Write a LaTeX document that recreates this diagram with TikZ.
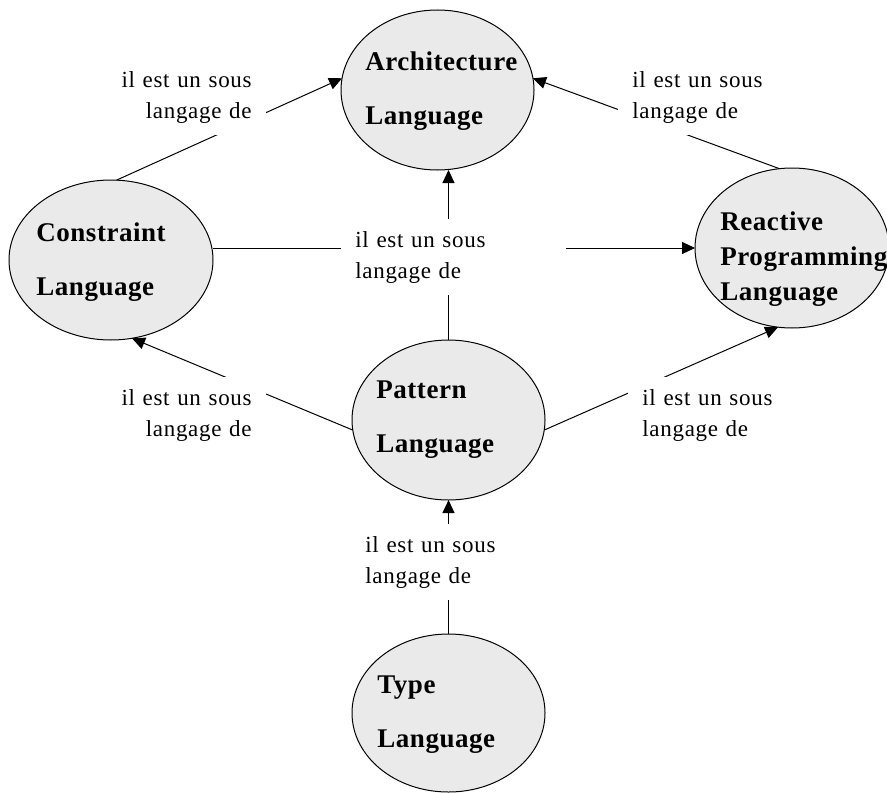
\documentclass[tikz,border=0pt]{standalone}
\usepackage{fontspec}
\setmainfont{Liberation Serif}
\newfontfamily\langfont[LetterSpace=2]{Liberation Serif}
\newfontfamily\relfont[LetterSpace=3]{Liberation Serif}
\usetikzlibrary{shapes.geometric, arrows.meta}
\definecolor{langgray}{RGB}{234,234,234}

\begin{document}
\begin{tikzpicture}[x=0.5pt, y=-0.5pt,
  lang/.style={ellipse, draw, fill=langgray, line width=0.5pt, inner sep=0pt, outer sep=0pt, minimum width=96.5pt, minimum height=80pt},
  langname/.style={anchor=north west, inner sep=0pt, align=left, font=\langfont\bfseries\fontsize{13.5}{27}\selectfont},
  rel/.style={fill=white, inner xsep=7pt, inner ysep=6pt, text width=98.5pt, align=left, font=\relfont\fontsize{11.5}{15.5}\selectfont},
  sub/.style={line width=0.5pt, -{Triangle[length=6.5pt, width=6pt]}}]
\useasboundingbox (0,0) rectangle (887,792);
%Languages
\node[lang] (arch) at (437.5,90) {};
\node[lang, minimum width=102pt] (cons) at (111,260) {};
\node[lang, minimum width=97pt] (reac) at (792,248) {};
\node[lang] (pat) at (448.5,420) {};
\node[lang, minimum height=79pt] (typ) at (448.5,713) {};
%Relations
\draw[sub] (cons.86) -- (arch.173);
\draw[sub] (reac.99) -- (arch.7);
\draw[sub] (pat.north) -- (pat.north |- arch.south);
\draw[sub] (cons.east |- reac.west) -- (reac.west);
\draw[sub] (pat.186) -- (cons.285);
\draw[sub] (pat.354) -- (reac.260);
\draw[sub] (typ.north) -- (pat.south);
%Text
\node[rel, anchor=north east, align=right] (consarch) at (266,59) {il est un sous\\langage de};
\node[rel, anchor=north west] (reacarch) at (618,59) {il est un sous\\langage de};
\node[rel, anchor=north west] (patarch) at (341,219) {il est un sous\\langage de};
\node[rel, anchor=north east, align=right] (patcons) at (266,377) {il est un sous\\langage de};
\node[rel, anchor=north west] (patreac) at (628,377) {il est un sous\\langage de};
\node[rel, anchor=north west] (typpat) at (351,524) {il est un sous\\langage de};
\node[langname] (archname) at (365,51.5) {Architecture\\Language};
\node[langname] (consname) at (36,222.5) {Constraint\\Language};
\node[langname, font=\langfont\bfseries\fontsize{13.5}{17.5}\selectfont] (reacname) at (720,211) {Reactive\\Programming\\Language};
\node[langname] (patname) at (376,380) {Pattern\\Language};
\node[langname] (typname) at (377,675) {Type\\Language};
\end{tikzpicture}
\end{document}
